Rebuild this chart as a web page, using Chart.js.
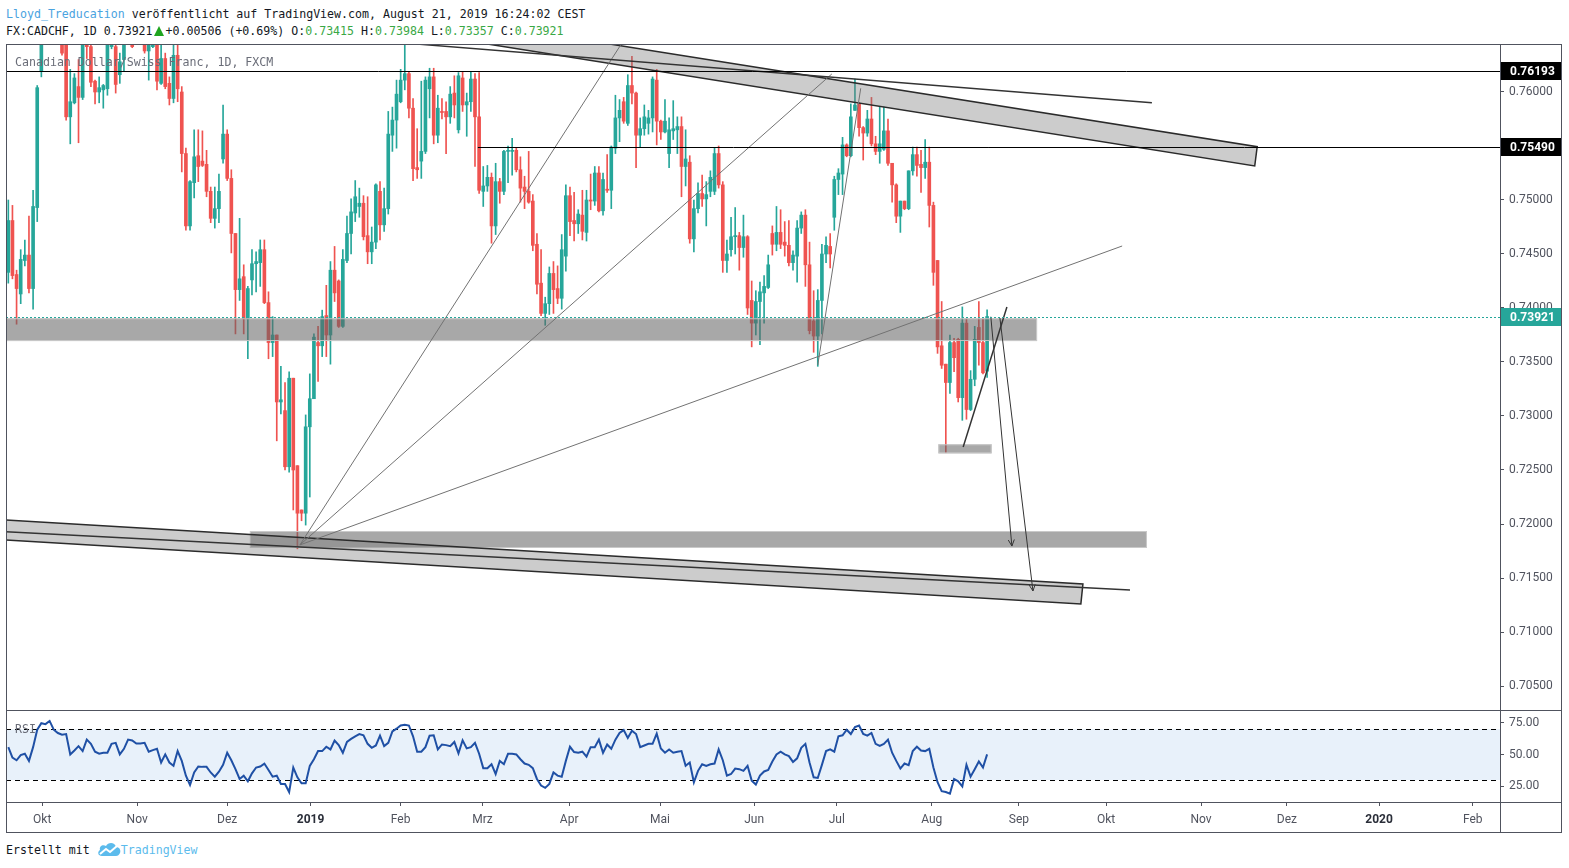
<!DOCTYPE html>
<html>
<head>
<meta charset="utf-8">
<script src="https://cdn.jsdelivr.net/npm/chart.js@4.4.0/dist/chart.umd.min.js"></script>
<style>
    body { margin: 0; background: #fff; width: 1569px; height: 868px; overflow: hidden; position: relative; }
    canvas { position: absolute; left: 0; }
    .txt { position: absolute; font-family: 'DejaVu Sans Mono', monospace; font-size: 11.6px; line-height: 16px; white-space: pre; color: #131722; }
    .g { color: #3aa845; }
    .line { position: absolute; background: #50535e; }
</style>
</head>
<body>
<div class="txt" style="left:6px;top:6px"><span style="color:#4aa3df">Lloyd_Treducation</span> veröffentlicht auf TradingView.com, August 21, 2019 16:24:02 CEST</div>
<div class="txt" style="left:6px;top:23px">FX:CADCHF, 1D 0.73921<svg width="12" height="10" viewBox="0 0 12 10" style="vertical-align:-1px;margin:0 1px 0 0"><path d="M1 10 L6 0 L11 10 Z" fill="#1fa51f"/></svg>+0.00506 (+0.69%) O:<span class="g">0.73415</span> H:<span class="g">0.73984</span> L:<span class="g">0.73357</span> C:<span class="g">0.73921</span></div>

<canvas id="main" width="1569" height="711" style="top:0"></canvas>
<canvas id="rsi" width="1569" height="122" style="top:710px"></canvas>

<div class="txt" style="left:15px;top:54px;color:#6a6d78">Canadian Dollar/Swiss Franc, 1D, FXCM</div>
<div class="txt" style="left:15px;top:721px;color:#6a6d78">RSI</div>

<div class="line" style="left:6px;top:44px;width:1556px;height:1px"></div>
<div class="line" style="left:6px;top:44px;width:1px;height:789px"></div>
<div class="line" style="left:1561px;top:44px;width:1px;height:789px"></div>
<div class="line" style="left:6px;top:832px;width:1556px;height:1px"></div>
<div class="line" style="left:6px;top:710px;width:1556px;height:1px"></div>
<div class="line" style="left:6px;top:802px;width:1556px;height:1px"></div>
<div class="line" style="left:1500px;top:44px;width:1px;height:789px"></div>

<div class="txt" style="left:6px;top:842px">Erstellt mit <svg width="24" height="15" viewBox="0 0 24 15" style="vertical-align:-3px"><path d="M5 14 C1 14 0 10 3 8 C2 4 6 2 9 4 C11 0 18 0 19 5 C23 5 24 9 23 11 C22 13 21 14 19 14 Z" fill="#5cbbec"/><polyline points="3,12 9,7 13,10 20,4" stroke="#fff" stroke-width="2" fill="none"/></svg><span style="color:#5cbbec">TradingView</span></div>

<script>
// daily CADCHF candles, oldest first (last one = Aug 21 2019)
const opens = [
    0.7433, 0.7481, 0.7431, 0.7413, 0.7444, 0.7449, 0.7418, 0.7493, 0.7619, 0.7654,
    0.7665, 0.7657, 0.7668, 0.7654, 0.7650, 0.7577, 0.7590, 0.7605, 0.7595, 0.7645,
    0.7642, 0.7610, 0.7600, 0.7602, 0.7603, 0.7642, 0.7642, 0.7616, 0.7630, 0.7648,
    0.7645, 0.7648, 0.7655, 0.7644, 0.7638, 0.7642, 0.7645, 0.7608, 0.7631, 0.7608,
    0.7594, 0.7634, 0.7600, 0.7543, 0.7476, 0.7516, 0.7541, 0.7536, 0.7533, 0.7508,
    0.7483, 0.7492, 0.7538, 0.7561, 0.7520, 0.7469, 0.7417, 0.7429, 0.7390, 0.7426,
    0.7441, 0.7442, 0.7454, 0.7405, 0.7368, 0.7375, 0.7313, 0.7305, 0.7253, 0.7335,
    0.7254, 0.7213, 0.7210, 0.7290, 0.7316, 0.7368, 0.7365, 0.7393, 0.7375, 0.7435,
    0.7425, 0.7383, 0.7444, 0.7469, 0.7488, 0.7494, 0.7497, 0.7467, 0.7452, 0.7461,
    0.7508, 0.7477, 0.7492, 0.7560, 0.7574, 0.7591, 0.7611, 0.7617, 0.7585, 0.7530,
    0.7536, 0.7545, 0.7603, 0.7614, 0.7560, 0.7582, 0.7582, 0.7577, 0.7599, 0.7565,
    0.7613, 0.7588, 0.7591, 0.7612, 0.7577, 0.7508, 0.7513, 0.7521, 0.7476, 0.7517,
    0.7508, 0.7545, 0.7545, 0.7546, 0.7528, 0.7512, 0.7508, 0.7499, 0.7459, 0.7423,
    0.7395, 0.7404, 0.7432, 0.7418, 0.7409, 0.7448, 0.7504, 0.7481, 0.7478, 0.7486,
    0.7470, 0.7500, 0.7499, 0.7525, 0.7490, 0.7510, 0.7509, 0.7548, 0.7576, 0.7591,
    0.7571, 0.7606, 0.7599, 0.7560, 0.7566, 0.7571, 0.7576, 0.7611, 0.7573, 0.7563,
    0.7543, 0.7564, 0.7565, 0.7568, 0.7531, 0.7535, 0.7464, 0.7492, 0.7506, 0.7501,
    0.7508, 0.7508, 0.7543, 0.7514, 0.7444, 0.7454, 0.7466, 0.7467, 0.7456, 0.7466,
    0.7407, 0.7386, 0.7406, 0.7414, 0.7419, 0.7469, 0.7459, 0.7470, 0.7461, 0.7458,
    0.7442, 0.7448, 0.7474, 0.7486, 0.7440, 0.7388, 0.7374, 0.7407, 0.7450, 0.7457,
    0.7484, 0.7519, 0.7524, 0.7551, 0.7541, 0.7583, 0.7589, 0.7567, 0.7562, 0.7575,
    0.7552, 0.7545, 0.7547, 0.7564, 0.7534, 0.7514, 0.7485, 0.7499, 0.7492, 0.7527,
    0.7542, 0.7533, 0.7530, 0.7535, 0.7495, 0.7444, 0.7365, 0.7348, 0.7331, 0.7368,
    0.7371, 0.7317, 0.7386, 0.7306, 0.7334, 0.7382, 0.7368, 0.73415
];
const highs = [
    0.7500, 0.7495, 0.7435, 0.7454, 0.7463, 0.7485, 0.7509, 0.7606, 0.7661, 0.7672,
    0.7688, 0.7675, 0.7680, 0.7661, 0.7656, 0.7621, 0.7617, 0.7630, 0.7654, 0.7651,
    0.7651, 0.7611, 0.7614, 0.7607, 0.7651, 0.7651, 0.7648, 0.7636, 0.7654, 0.7662,
    0.7648, 0.7664, 0.7666, 0.7648, 0.7648, 0.7648, 0.7648, 0.7648, 0.7636, 0.7614,
    0.7645, 0.7645, 0.7605, 0.7548, 0.7518, 0.7565, 0.7565, 0.7564, 0.7546, 0.7512,
    0.7512, 0.7524, 0.7588, 0.7565, 0.7528, 0.7469, 0.7483, 0.7440, 0.7420, 0.7454,
    0.7452, 0.7463, 0.7463, 0.7415, 0.7392, 0.7375, 0.7346, 0.7331, 0.7341, 0.7335,
    0.7254, 0.7213, 0.7301, 0.7339, 0.7376, 0.7383, 0.7398, 0.7421, 0.7443, 0.7457,
    0.7426, 0.7454, 0.7485, 0.7501, 0.7518, 0.7511, 0.7504, 0.7503, 0.7475, 0.7515,
    0.7517, 0.7511, 0.7582, 0.7586, 0.7611, 0.7621, 0.7651, 0.7619, 0.7594, 0.7566,
    0.7610, 0.7614, 0.7622, 0.7622, 0.7597, 0.7594, 0.7591, 0.7605, 0.7615, 0.7618,
    0.7619, 0.7599, 0.7619, 0.7617, 0.7618, 0.7531, 0.7532, 0.7525, 0.7534, 0.7520,
    0.7546, 0.7550, 0.7557, 0.7548, 0.7540, 0.7522, 0.7545, 0.7505, 0.7469, 0.7454,
    0.7410, 0.7438, 0.7443, 0.7439, 0.7468, 0.7514, 0.7512, 0.7507, 0.7491, 0.7509,
    0.7509, 0.7524, 0.7531, 0.7531, 0.7525, 0.7542, 0.7550, 0.7597, 0.7593, 0.7595,
    0.7616, 0.7633, 0.7600, 0.7576, 0.7588, 0.7583, 0.7614, 0.7621, 0.7574, 0.7593,
    0.7576, 0.7592, 0.7577, 0.7577, 0.7565, 0.7541, 0.7500, 0.7516, 0.7523, 0.7517,
    0.7527, 0.7548, 0.7550, 0.7517, 0.7463, 0.7484, 0.7493, 0.7470, 0.7486, 0.7467,
    0.7425, 0.7416, 0.7424, 0.7430, 0.7449, 0.7476, 0.7494, 0.7491, 0.7480, 0.7481,
    0.7453, 0.7481, 0.7489, 0.7491, 0.7461, 0.7416, 0.7417, 0.7459, 0.7466, 0.7469,
    0.7522, 0.7529, 0.7558, 0.7552, 0.7589, 0.7612, 0.7590, 0.7568, 0.7583, 0.7595,
    0.7559, 0.7586, 0.7586, 0.7575, 0.7534, 0.7515, 0.7499, 0.7499, 0.7527, 0.7549,
    0.7549, 0.7546, 0.7556, 0.7549, 0.7498, 0.7444, 0.7406, 0.7348, 0.7375, 0.7372,
    0.7372, 0.7401, 0.7390, 0.7342, 0.7383, 0.7406, 0.7390, 0.73984
];
const lows = [
    0.7423, 0.7427, 0.7385, 0.7404, 0.7439, 0.7414, 0.7399, 0.7480, 0.7614, 0.7648,
    0.7650, 0.7649, 0.7652, 0.7634, 0.7574, 0.7552, 0.7589, 0.7553, 0.7593, 0.7631,
    0.7605, 0.7589, 0.7590, 0.7585, 0.7597, 0.7640, 0.7599, 0.7608, 0.7619, 0.7646,
    0.7641, 0.7646, 0.7647, 0.7636, 0.7611, 0.7641, 0.7602, 0.7607, 0.7603, 0.7588,
    0.7590, 0.7591, 0.7526, 0.7472, 0.7472, 0.7502, 0.7517, 0.7531, 0.7503, 0.7479,
    0.7474, 0.7479, 0.7534, 0.7518, 0.7451, 0.7376, 0.7407, 0.7376, 0.7353, 0.7412,
    0.7415, 0.7420, 0.7404, 0.7353, 0.7355, 0.7277, 0.7302, 0.7250, 0.7248, 0.7213,
    0.7177, 0.7203, 0.7199, 0.7225, 0.7327, 0.7332, 0.7355, 0.7355, 0.7348, 0.7406,
    0.7382, 0.7382, 0.7442, 0.7450, 0.7480, 0.7484, 0.7463, 0.7441, 0.7441, 0.7455,
    0.7463, 0.7471, 0.7487, 0.7545, 0.7548, 0.7590, 0.7602, 0.7576, 0.7518, 0.7520,
    0.7520, 0.7543, 0.7576, 0.7552, 0.7553, 0.7575, 0.7543, 0.7571, 0.7576, 0.7562,
    0.7582, 0.7559, 0.7582, 0.7531, 0.7506, 0.7494, 0.7508, 0.7460, 0.7468, 0.7497,
    0.7505, 0.7516, 0.7523, 0.7526, 0.7498, 0.7492, 0.7497, 0.7453, 0.7413, 0.7393,
    0.7384, 0.7394, 0.7395, 0.7404, 0.7399, 0.7434, 0.7467, 0.7462, 0.7469, 0.7463,
    0.7462, 0.7491, 0.7495, 0.7489, 0.7486, 0.7507, 0.7492, 0.7543, 0.7554, 0.7571,
    0.7569, 0.7589, 0.7530, 0.7549, 0.7560, 0.7561, 0.7563, 0.7551, 0.7556, 0.7562,
    0.7530, 0.7556, 0.7543, 0.7503, 0.7513, 0.7460, 0.7452, 0.7488, 0.7494, 0.7476,
    0.7503, 0.7505, 0.7511, 0.7433, 0.7433, 0.7448, 0.7450, 0.7435, 0.7447, 0.7394,
    0.7364, 0.7375, 0.7366, 0.7386, 0.7418, 0.7449, 0.7453, 0.7455, 0.7448, 0.7439,
    0.7435, 0.7424, 0.7469, 0.7420, 0.7376, 0.7359, 0.7346, 0.7376, 0.7442, 0.7437,
    0.7472, 0.7505, 0.7505, 0.7540, 0.7540, 0.7583, 0.7559, 0.7537, 0.7559, 0.7550,
    0.7542, 0.7534, 0.7546, 0.7532, 0.7498, 0.7479, 0.7470, 0.7491, 0.7491, 0.7523,
    0.7522, 0.7507, 0.7520, 0.7475, 0.7421, 0.7358, 0.7344, 0.7266, 0.7321, 0.7341,
    0.7313, 0.7296, 0.7297, 0.7305, 0.7328, 0.7347, 0.7339, 0.73357
];
const closes = [
    0.7481, 0.7430, 0.7418, 0.7445, 0.7449, 0.7418, 0.7494, 0.7604, 0.7654, 0.7665,
    0.7657, 0.7668, 0.7660, 0.7636, 0.7577, 0.7591, 0.7613, 0.7595, 0.7648, 0.7642,
    0.7609, 0.7600, 0.7604, 0.7606, 0.7644, 0.7645, 0.7607, 0.7628, 0.7648, 0.7655,
    0.7642, 0.7655, 0.7650, 0.7638, 0.7644, 0.7645, 0.7610, 0.7631, 0.7605, 0.7594,
    0.7634, 0.7603, 0.7543, 0.7476, 0.7517, 0.7540, 0.7531, 0.7532, 0.7508, 0.7483,
    0.7492, 0.7508, 0.7561, 0.7520, 0.7469, 0.7417, 0.7427, 0.7390, 0.7418, 0.7441,
    0.7443, 0.7454, 0.7405, 0.7368, 0.7375, 0.7313, 0.7315, 0.7253, 0.7335, 0.7250,
    0.7210, 0.7210, 0.7290, 0.7316, 0.7373, 0.7365, 0.7392, 0.7375, 0.7435, 0.7414,
    0.7383, 0.7445, 0.7469, 0.7489, 0.7503, 0.7497, 0.7466, 0.7452, 0.7461, 0.7514,
    0.7477, 0.7492, 0.7561, 0.7574, 0.7598, 0.7611, 0.7617, 0.7585, 0.7529, 0.7528,
    0.7545, 0.7611, 0.7614, 0.7560, 0.7585, 0.7581, 0.7577, 0.7598, 0.7588, 0.7615,
    0.7588, 0.7591, 0.7612, 0.7577, 0.7509, 0.7513, 0.7521, 0.7476, 0.7517, 0.7508,
    0.7545, 0.7546, 0.7546, 0.7528, 0.7511, 0.7508, 0.7498, 0.7458, 0.7422, 0.7395,
    0.7404, 0.7432, 0.7417, 0.7409, 0.7454, 0.7504, 0.7480, 0.7478, 0.7487, 0.7471,
    0.7500, 0.7499, 0.7525, 0.7490, 0.7519, 0.7509, 0.7549, 0.7576, 0.7583, 0.7573,
    0.7606, 0.7599, 0.7560, 0.7566, 0.7577, 0.7576, 0.7612, 0.7573, 0.7563, 0.7573,
    0.7565, 0.7566, 0.7568, 0.7531, 0.7538, 0.7464, 0.7492, 0.7506, 0.7501, 0.7505,
    0.7521, 0.7543, 0.7514, 0.7444, 0.7450, 0.7466, 0.7467, 0.7456, 0.7466, 0.7400,
    0.7386, 0.7406, 0.7415, 0.7420, 0.7440, 0.7459, 0.7470, 0.7459, 0.7458, 0.7442,
    0.7449, 0.7474, 0.7486, 0.7440, 0.7379, 0.7374, 0.7407, 0.7450, 0.7458, 0.7450,
    0.7519, 0.7525, 0.7551, 0.7541, 0.7577, 0.7588, 0.7567, 0.7562, 0.7575, 0.7552,
    0.7545, 0.7552, 0.7564, 0.7534, 0.7514, 0.7485, 0.7499, 0.7492, 0.7527, 0.7542,
    0.7532, 0.7530, 0.7535, 0.7495, 0.7433, 0.7364, 0.7347, 0.7331, 0.7368, 0.7354,
    0.7317, 0.7386, 0.7306, 0.7334, 0.7371, 0.7368, 0.7340, 0.73921
];
const rsiValues = [
    55.8, 47.6, 45.5, 49.6, 50.6, 45.0, 55.8, 69.5, 74.6, 73.9,
    76.4, 69.5, 66.9, 65.6, 66.1, 50.1, 53.2, 56.6, 52.7, 61.7,
    58.4, 52.2, 50.6, 51.4, 51.4, 58.4, 59.2, 50.1, 54.5, 61.7,
    61.0, 58.6, 58.6, 59.2, 52.2, 53.5, 54.5, 43.7, 50.1, 43.7,
    41.1, 52.7, 45.0, 33.4, 26.1, 35.9, 40.6, 40.3, 40.3, 35.9,
    32.6, 36.5, 41.9, 51.4, 45.5, 38.5, 30.8, 33.4, 29.0, 35.2,
    39.8, 40.6, 42.9, 37.8, 32.6, 33.4, 26.9, 26.9, 20.5, 39.8,
    32.1, 27.4, 27.4, 41.1, 46.3, 52.7, 52.7, 56.1, 54.0, 61.0,
    57.4, 51.4, 59.9, 62.3, 64.3, 66.1, 65.1, 58.4, 55.3, 57.1,
    64.8, 56.6, 59.2, 68.2, 70.3, 72.8, 73.4, 72.8, 64.3, 52.2,
    52.2, 55.8, 64.8, 65.1, 54.0, 57.9, 57.4, 56.6, 59.9, 50.9,
    61.2, 54.8, 55.8, 59.2, 50.6, 39.3, 39.3, 42.4, 34.7, 45.0,
    42.4, 50.6, 50.6, 50.1, 46.3, 42.9, 41.9, 39.3, 30.8, 25.6,
    23.8, 26.9, 35.9, 33.4, 32.6, 45.0, 56.1, 51.9, 51.4, 52.2,
    48.3, 55.8, 55.8, 61.7, 51.4, 57.9, 54.5, 61.7, 66.9, 69.2,
    63.0, 68.7, 66.1, 55.8, 57.1, 58.4, 58.4, 66.4, 54.8, 51.4,
    54.0, 51.4, 52.2, 52.7, 41.1, 43.7, 28.2, 37.2, 42.4, 41.1,
    42.4, 42.9, 54.0, 45.5, 33.4, 34.7, 39.0, 38.5, 37.2, 41.1,
    29.5, 26.4, 33.4, 36.7, 37.8, 44.5, 50.1, 52.2, 50.1, 48.8,
    44.2, 47.0, 55.3, 58.4, 43.7, 32.1, 31.6, 41.9, 52.7, 54.0,
    52.2, 64.3, 65.1, 69.5, 66.1, 71.5, 72.8, 66.1, 64.8, 66.9,
    58.4, 56.8, 58.4, 61.7, 51.4, 45.0, 39.0, 42.9, 41.6, 52.7,
    56.1, 53.2, 52.7, 54.5, 39.8, 28.2, 21.2, 20.5, 19.2, 30.8,
    29.0, 24.9, 41.9, 32.6, 38.5, 44.5, 39.8, 50.1
];

// axis labels (x positions are in candle-index units)
const monthTicks = [8.2, 31.2, 53.0, 73.2, 95.0, 114.8, 135.8, 157.8, 180.6, 200.6, 223.6, 244.7, 265.8, 288.8, 309.6, 331.9, 354.6];
const monthLabels = ['Okt', 'Nov', 'Dez', '2019', 'Feb', 'Mrz', 'Apr', 'Mai', 'Jun', 'Jul', 'Aug', 'Sep', 'Okt', 'Nov', 'Dez', '2020', 'Feb'];
const priceTicks = [0.705, 0.71, 0.715, 0.72, 0.725, 0.73, 0.735, 0.74, 0.745, 0.75, 0.755, 0.76];
const rsiTicks = [25, 50, 75];
const rsiUpper = 70;
const rsiLower = 30;

// drawings, in (candle index, price)
const levelPrices = [0.76193, 0.75490];
const levelStarts = [-2, 113.7];
const lastPrice = 0.73921;
const zoneFrom = [-2, 58.5, 225.2];
const zoneTo = [249.1, 275.7, 238.1];
const zoneHigh = [0.73905, 0.71935, 0.72738];
const zoneLow = [0.73694, 0.71778, 0.72654];
const upperChannel = [[94.84, 0.76752], [302.4, 0.75494], [301.8, 0.75315], [94.84, 0.76573]];
const lowerChannel = [[-2, 0.72041], [260.2, 0.71444], [259.7, 0.71259], [-2, 0.71856]];
const pivot = [70.6, 0.71806];
const fanEnds = [[150.6, 0.76574], [199.4, 0.76167], [269.7, 0.74574]];
const greyLines = [[[196.0, 0.73472], [206.4, 0.76034]]];
const darkLines = [
    [[98.9, 0.76444], [276.9, 0.75901]],
    [[-2, 0.71932], [271.6, 0.71389]],
    [[231.2, 0.72713], [241.8, 0.74009]]
];
const arrows = [
    [[237.9, 0.73919], [243.0, 0.71796]],
    [[240.1, 0.73907], [248.1, 0.71380]]
];

const xMin = -0.56;
const xMax = 361.19;
const UP = '#26a69a';
const DOWN = '#ef5350';
const AXIS = '#50535e';

Chart.defaults.font.family = 'Roboto, "Liberation Sans", sans-serif';
Chart.defaults.font.size = 12;

const candleColors = closes.map((c, i) => c >= opens[i] ? UP : DOWN);

const drawingsPlugin = {
    id: 'drawings',
    afterDatasetsDraw(chart) {
        const { ctx, chartArea: a, scales: { x, y } } = chart;
        const px = v => x.getPixelForValue(v);
        const py = v => y.getPixelForValue(v);
        ctx.save();
        ctx.beginPath();
        ctx.rect(a.left, a.top, a.right - a.left, a.bottom - a.top);
        ctx.clip();

        // grey zones
        zoneFrom.forEach((f, i) => {
            const x0 = px(f), x1 = px(zoneTo[i]);
            const y0 = py(zoneHigh[i]), y1 = py(zoneLow[i]);
            ctx.fillStyle = 'rgba(100,100,100,0.56)';
            ctx.fillRect(x0, y0, x1 - x0, y1 - y0);
            ctx.strokeStyle = 'rgba(205,205,205,0.9)';
            ctx.lineWidth = 1;
            ctx.strokeRect(x0 + 0.5, y0 + 0.5, x1 - x0 - 1, y1 - y0 - 1);
        });

        // sloped channels
        [upperChannel, lowerChannel].forEach(poly => {
            ctx.beginPath();
            poly.forEach((p, i) => i ? ctx.lineTo(px(p[0]), py(p[1])) : ctx.moveTo(px(p[0]), py(p[1])));
            ctx.closePath();
            ctx.fillStyle = 'rgba(120,120,120,0.38)';
            ctx.fill();
            ctx.strokeStyle = '#2b2b2b';
            ctx.lineWidth = 1.5;
            ctx.stroke();
        });

        const seg = (p, q, color, w) => {
            ctx.beginPath();
            ctx.moveTo(px(p[0]), py(p[1]));
            ctx.lineTo(px(q[0]), py(q[1]));
            ctx.strokeStyle = color;
            ctx.lineWidth = w;
            ctx.stroke();
        };
        fanEnds.forEach(e => seg(pivot, e, '#727272', 1));
        greyLines.forEach(l => seg(l[0], l[1], '#727272', 1));
        darkLines.forEach(l => seg(l[0], l[1], '#333', 1.5));
        arrows.forEach(l => {
            seg(l[0], l[1], '#333', 1);
            const x1 = px(l[1][0]), y1 = py(l[1][1]);
            const ang = Math.atan2(y1 - py(l[0][1]), x1 - px(l[0][0]));
            ctx.beginPath();
            ctx.moveTo(x1 - 7 * Math.cos(ang - 0.45), y1 - 7 * Math.sin(ang - 0.45));
            ctx.lineTo(x1, y1);
            ctx.lineTo(x1 - 7 * Math.cos(ang + 0.45), y1 - 7 * Math.sin(ang + 0.45));
            ctx.stroke();
        });

        // horizontal levels
        levelPrices.forEach((p, i) => {
            const yy = Math.round(py(p)) + 0.5;
            ctx.beginPath();
            ctx.moveTo(px(levelStarts[i]), yy);
            ctx.lineTo(a.right, yy);
            ctx.strokeStyle = '#000';
            ctx.lineWidth = 1;
            ctx.stroke();
        });

        // last price
        const ly = Math.round(py(lastPrice)) + 0.5;
        ctx.setLineDash([2, 2]);
        ctx.strokeStyle = UP;
        ctx.beginPath();
        ctx.moveTo(a.left, ly);
        ctx.lineTo(a.right, ly);
        ctx.stroke();
        ctx.restore();
    },
    afterDraw(chart) {
        const { ctx, chartArea: a, scales: { y } } = chart;
        const tag = (p, bg) => {
            const yy = Math.round(y.getPixelForValue(p));
            ctx.fillStyle = bg;
            ctx.fillRect(a.right + 1, yy - 9, 60, 18);
            ctx.fillStyle = '#fff';
            ctx.font = 'bold 12px Roboto, "Liberation Sans", sans-serif';
            ctx.textBaseline = 'middle';
            ctx.fillText(p.toFixed(5), a.right + 10, yy + 1);
        };
        ctx.save();
        levelPrices.forEach(p => tag(p, '#000'));
        tag(lastPrice, UP);
        ctx.restore();
    }
};

const rsiBandPlugin = {
    id: 'rsiBand',
    beforeDatasetsDraw(chart) {
        const { ctx, chartArea: a, scales: { y } } = chart;
        const yTop = y.getPixelForValue(rsiUpper);
        const yBot = y.getPixelForValue(rsiLower);
        ctx.save();
        ctx.fillStyle = 'rgba(25,118,210,0.1)';
        ctx.fillRect(a.left, yTop, a.right - a.left, yBot - yTop);
        ctx.strokeStyle = '#000';
        ctx.lineWidth = 1;
        ctx.setLineDash([5, 4]);
        [yTop, yBot].forEach(yy => {
            ctx.beginPath();
            ctx.moveTo(a.left, Math.round(yy) + 0.5);
            ctx.lineTo(a.right, Math.round(yy) + 0.5);
            ctx.stroke();
        });
        ctx.restore();
    }
};

// fixed axis size, and no extra room for half labels at the ends
const yAxisStyle = {
    position: 'right',
    afterFit: s => { s.width = 61; s.paddingTop = 0; s.paddingBottom = 0; },
    grid: { drawOnChartArea: false, tickLength: 4, color: AXIS },
    border: { color: AXIS }
};

new Chart(document.getElementById('main'), {
    type: 'bar',
    data: {
        datasets: [
            {
                data: opens.map((o, i) => ({ x: i, y: [o, closes[i]] })),
                backgroundColor: candleColors,
                barThickness: 3,
                minBarLength: 1,
                grouped: false,
                order: 0
            },
            {
                data: lows.map((l, i) => ({ x: i, y: [l, highs[i]] })),
                backgroundColor: candleColors,
                barThickness: 1,
                grouped: false,
                order: 1
            }
        ]
    },
    options: {
        responsive: false,
        animation: false,
        devicePixelRatio: 1,
        layout: { padding: { left: 6, top: 44, right: 8, bottom: 1 } },
        plugins: { legend: { display: false }, tooltip: { enabled: false } },
        scales: {
            x: { type: 'linear', min: xMin, max: xMax, display: false, offset: false },
            y: {
                ...yAxisStyle,
                min: 0.702778,
                max: 0.764444,
                afterBuildTicks: s => { s.ticks = priceTicks.map(v => ({ value: v })); },
                ticks: { callback: v => v.toFixed(5), padding: 5, color: AXIS }
            }
        }
    },
    plugins: [drawingsPlugin]
});

new Chart(document.getElementById('rsi'), {
    type: 'line',
    data: {
        datasets: [{
            data: rsiValues.map((v, i) => ({ x: i, y: v })),
            borderColor: '#1f50a5',
            borderWidth: 2,
            pointRadius: 0,
            tension: 0
        }]
    },
    options: {
        responsive: false,
        animation: false,
        devicePixelRatio: 1,
        layout: { padding: { left: 6, top: 1, right: 8, bottom: 0 } },
        plugins: { legend: { display: false }, tooltip: { enabled: false } },
        scales: {
            x: {
                type: 'linear',
                min: xMin,
                max: xMax,
                offset: false,
                afterFit: s => { s.height = 30; s.paddingLeft = 0; s.paddingRight = 0; },
                afterBuildTicks: s => { s.ticks = monthTicks.map(v => ({ value: v })); },
                ticks: {
                    autoSkip: false,
                    maxRotation: 0,
                    padding: 7,
                    callback: (v, i) => monthLabels[i],
                    color: c => /^\d/.test(monthLabels[c.index]) ? '#2a2e39' : AXIS,
                    font: c => ({ size: 12, weight: /^\d/.test(monthLabels[c.index]) ? 'bold' : 'normal' })
                },
                grid: { drawOnChartArea: false, tickLength: 4, color: AXIS },
                border: { color: AXIS }
            },
            y: {
                ...yAxisStyle,
                min: 12.7,
                max: 84.2,
                afterBuildTicks: s => { s.ticks = rsiTicks.map(v => ({ value: v })); },
                ticks: { callback: v => v.toFixed(2), padding: 5, color: AXIS }
            }
        }
    },
    plugins: [rsiBandPlugin]
});
</script>
</body>
</html>
